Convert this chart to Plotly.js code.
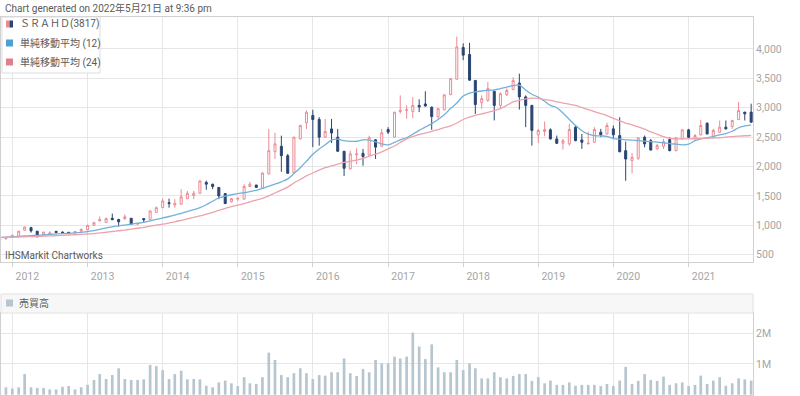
<!DOCTYPE html>
<html>
<head>
<meta charset="utf-8">
<script src="https://cdn.plot.ly/plotly-3.0.1.min.js"></script>
<style>
html,body{margin:0;padding:0;background:#fff;}
#chart{width:800px;height:396px;}
</style>
</head>
<body>
<div id="chart"></div>
<script>
// ---- DATA (monthly, Nov 2011 .. Nov 2021) ----
const startMonth = '2011-11';
const openP = [760,770,800,815,915,960,900,830,850,895,885,880,870,900,
  925,1000,1075,1050,1120,1100,1115,1120,1020,1115,1100,1220,
  1300,1385,1345,1360,1455,1505,1545,1730,1700,1645,1540,1400,
  1445,1445,1660,1685,1630,1875,2255,2345,2185,1890,2470,2745,
  2870,2800,2500,2640,2500,2260,1960,2200,2225,2195,2455,2345,
  2630,2500,2937,2955,2937,3040,3065,3010,2850,2966,3222,3485,
  4025,3905,3465,3085,3125,3280,3040,3222,3310,3420,3185,3040,
  2540,2595,2625,2470,2396,2385,2670,2453,2385,2413,2585,2555,
  2641,2527,2270,2100,2140,2498,2441,2299,2345,2458,2270,2470,
  2624,2481,2538,2738,2516,2584,2670,2681,2800,2926,2926];
const highP = [785,805,840,910,980,975,905,890,900,910,895,890,905,945,
  1010,1060,1150,1130,1200,1110,1185,1125,1040,1120,1250,1320,
  1455,1455,1445,1615,1585,1585,1765,1760,1705,1650,1545,1465,
  1470,1700,1740,1690,1900,2640,2573,2525,2215,2505,2710,2955,
  2965,2840,2810,2810,2640,2265,2270,2310,2300,2525,2465,2641,
  2670,2930,3211,3040,3182,3143,3280,3020,2990,3230,3500,4210,
  4095,4105,3470,3211,3439,3290,3260,3330,3520,3580,3210,3050,
  2640,2766,2650,2527,2470,2725,2698,2555,2595,2670,2641,2744,
  2698,2840,2425,2230,2498,2527,2470,2385,2470,2498,2498,2641,
  2641,2555,2795,2750,2641,2783,2783,2795,3097,2930,3069];
const lowP = [750,760,790,805,905,875,790,820,830,870,865,860,860,895,
  915,990,1065,1040,1090,980,1090,1010,1005,1040,1095,1210,
  1295,1300,1300,1350,1445,1445,1535,1605,1615,1445,1365,1390,
  1415,1440,1650,1635,1620,1865,2128,1910,1880,1880,2460,2640,
  2330,2356,2490,2400,2250,1840,1950,2040,2015,2190,2130,2335,
  2555,2490,2900,2812,2823,2926,3020,2625,2815,2955,3215,3480,
  3810,3460,2895,2983,3100,2785,2983,3200,3300,2970,2670,2355,
  2400,2515,2460,2385,2288,2356,2430,2300,2380,2400,2500,2545,
  2470,2240,1757,1883,2110,2327,2270,2288,2299,2260,2260,2460,
  2490,2441,2530,2545,2470,2575,2630,2641,2790,2783,2745];
const closeP = [775,795,830,900,970,905,820,885,870,880,870,865,895,930,
  1000,1045,1100,1115,1095,1060,1145,1020,1030,1095,1245,1300,
  1415,1370,1375,1485,1545,1545,1755,1700,1660,1500,1370,1455,
  1460,1660,1700,1645,1890,2270,2385,2185,1885,2500,2700,2925,
  2800,2500,2595,2570,2260,1970,2215,2215,2170,2490,2330,2575,
  2585,2925,2955,2965,3040,3015,3030,2850,2985,3220,3495,4035,
  3895,3470,3055,3155,3325,3040,3240,3295,3465,3185,3040,2615,
  2615,2630,2470,2395,2440,2630,2440,2413,2396,2630,2540,2698,
  2540,2253,2128,2157,2487,2385,2282,2356,2424,2270,2487,2624,
  2498,2527,2698,2555,2613,2670,2641,2783,2954,2897,2755];
const sma12 = [795,800,806,812,818,824,830,838,846,852,858,864,872,880,
  895,910,930,955,975,990,1005,1020,1035,1050,1075,1100,
  1125,1150,1175,1205,1235,1265,1300,1350,1410,1465,1495,1520,
  1540,1555,1575,1595,1630,1665,1700,1740,1790,1880,1980,2090,
  2210,2300,2370,2450,2465,2440,2428,2430,2455,2450,2420,2385,
  2368,2410,2455,2490,2550,2615,2670,2730,2800,2880,2990,3080,
  3200,3250,3270,3285,3296,3305,3325,3350,3375,3385,3300,3230,
  3180,3110,3040,3000,2910,2800,2700,2610,2550,2525,2520,2515,
  2475,2465,2455,2450,2440,2432,2425,2415,2405,2390,2380,2370,
  2380,2440,2470,2490,2510,2540,2560,2600,2660,2690,2710];
const sma24 = [792,795,798,801,804,808,812,816,820,825,830,835,840,845,
  852,860,870,882,895,908,920,935,950,965,985,1005,
  1020,1040,1060,1085,1110,1135,1160,1190,1220,1255,1290,1320,
  1345,1370,1400,1430,1460,1500,1550,1600,1650,1720,1780,1840,
  1890,1940,1980,2010,2040,2070,2090,2110,2140,2175,2210,2250,
  2300,2350,2410,2470,2510,2545,2570,2600,2630,2660,2690,2740,
  2800,2840,2870,2895,2920,2950,2985,3040,3100,3125,3150,3165,
  3160,3140,3125,3100,3080,3060,3040,3005,2970,2935,2900,2865,
  2820,2775,2740,2710,2675,2635,2590,2550,2510,2480,2472,2470,
  2470,2475,2478,2482,2486,2490,2500,2510,2518,2524,2528];
const volumeM = [0.15,0.24,0.20,0.24,0.67,0.24,0.22,0.22,0.17,0.17,0.26,0.28,0.17,0.24,
  0.32,0.48,0.67,0.51,0.64,0.86,0.51,0.48,0.48,0.50,0.97,0.93,
  0.80,0.51,0.67,0.78,0.50,0.51,0.50,0.29,0.24,0.40,0.46,0.37,
  0.28,0.57,0.37,0.35,0.57,1.37,1.13,0.64,0.57,0.70,0.86,0.70,
  0.51,0.64,0.62,0.73,0.73,1.18,0.70,0.61,0.84,0.73,1.13,1.02,
  1.02,1.24,1.18,1.24,2.02,1.57,1.16,1.64,0.89,0.73,0.73,1.13,
  0.80,1.02,0.86,0.53,0.53,0.73,0.57,0.53,0.61,0.67,0.67,0.45,
  0.57,0.37,0.46,0.32,0.32,0.40,0.29,0.32,0.32,0.32,0.28,0.35,
  0.28,0.46,0.91,0.35,0.45,0.67,0.48,0.45,0.59,0.32,0.37,0.40,
  0.28,0.32,0.62,0.35,0.46,0.57,0.29,0.37,0.53,0.50,0.46];
const years = ['2012','2013','2014','2015','2016','2017','2018','2019','2020','2021'];
const priceTicks = [500,1000,1500,2000,2500,3000,3500,4000];
const volTicks = [1,2];
const volTickText = ['1M','2M'];
const titleText = 'Chart generated on 2022年5月21日 at 9:36 pm';
const legendNames = ['ＳＲＡＨＤ(3817)','単純移動平均 (12)','単純移動平均 (24)'];
const volName = '売買高';
const creditText = 'IHSMarkit Chartworks';

// month start dates (categories)
const dates = [];
{
  let y = +startMonth.slice(0,4), m = +startMonth.slice(5,7);
  for (let i = 0; i < openP.length; i++) {
    dates.push(y + '-' + String(m).padStart(2,'0') + '-01');
    m++; if (m > 12) { m = 1; y++; }
  }
}

// ---- layout helpers (pixel -> paper) ----
const ML = 1, MR = 47, MT = 17, MB = 1, W = 800, H = 396;
const PW = W - ML - MR, PH = H - MT - MB;
const px = p => (p - ML) / PW;
const py = q => (H - MB - q) / PH;

const FONT = 'Roboto, "Noto Sans CJK JP", sans-serif';
const RED = '#ec8a94', NAVY = '#2b4572', BLUE = '#72b1da', PINK = '#eca3ad', VOL = '#b7c5cf';
const GRID = '#e6e6e6', LINE = '#d0d0d0';
const TXT = '#5a5a5a', TICK = '#a5a5a5';

const traces = [
  {type:'candlestick', x:dates, open:openP, high:highP, low:lowP, close:closeP,
   xaxis:'x', yaxis:'y', whiskerwidth:0, showlegend:false, hoverinfo:'none',
   increasing:{line:{color:RED, width:1}, fillcolor:'#ffffff'},
   decreasing:{line:{color:NAVY, width:1}, fillcolor:NAVY}},
  {type:'scatter', mode:'lines', x:dates, y:sma12, xaxis:'x', yaxis:'y',
   line:{color:BLUE, width:1.3, shape:'spline'}, showlegend:false, hoverinfo:'none'},
  {type:'scatter', mode:'lines', x:dates, y:sma24, xaxis:'x', yaxis:'y',
   line:{color:PINK, width:1.3, shape:'spline'}, showlegend:false, hoverinfo:'none'},
  {type:'bar', x:dates, y:volumeM, xaxis:'x2', yaxis:'y2', width:13*864e5,
   marker:{color:VOL}, showlegend:false, hoverinfo:'none'}
];

const yearVals = years.map(y => y + '-01-01');

const layout = {
  width:W, height:H, margin:{l:ML, r:MR, t:MT, b:MB, pad:0},
  paper_bgcolor:'#ffffff', plot_bgcolor:'rgba(0,0,0,0)',
  font:{family:FONT, size:10, color:TICK},
  showlegend:false, boxgap:0.5,
  xaxis:{type:'date', domain:[0,1], anchor:'y', range:['2011-11-07','2021-11-10'],
    tickvals:yearVals, ticktext:years, ticklabelshift:15,
    ticks:'outside', ticklen:4, tickcolor:LINE, showgrid:true, gridcolor:GRID,
    showline:true, linecolor:LINE, mirror:true, zeroline:false,
    rangeslider:{visible:false}, tickfont:{size:10.5, color:TICK}, fixedrange:true},
  yaxis:{domain:[py(262),1], anchor:'x', range:[376,4544], side:'right',
    tickvals:priceTicks, tickformat:',d', showgrid:true, gridcolor:GRID,
    showline:true, linecolor:LINE, mirror:true, zeroline:false, ticks:'',
    tickfont:{size:10.5, color:TICK}, fixedrange:true},
  xaxis2:{type:'date', matches:'x', domain:[0,1], anchor:'y2', showticklabels:false,
    ticks:'', showgrid:true, gridcolor:GRID, tickvals:yearVals,
    showline:true, linecolor:LINE, mirror:true, zeroline:false, fixedrange:true},
  yaxis2:{domain:[0,py(313)], anchor:'x2', range:[-0.01,2.66], side:'right',
    tickvals:volTicks, ticktext:volTickText, showgrid:true, gridcolor:GRID,
    showline:true, linecolor:LINE, mirror:true, zeroline:false, ticks:'',
    tickfont:{size:10.5, color:TICK}, fixedrange:true},
  shapes:[
    // legend box
    {type:'rect', xref:'paper', yref:'paper', x0:px(2), x1:px(100), y0:py(73), y1:py(17),
     fillcolor:'rgba(255,255,255,0.92)', line:{color:'#dddddd', width:1}, layer:'above'},
    {type:'rect', xref:'paper', yref:'paper', x0:px(6), x1:px(9.5), y0:py(27.5), y1:py(20.5),
     fillcolor:RED, line:{width:0}, layer:'above'},
    {type:'rect', xref:'paper', yref:'paper', x0:px(9.5), x1:px(13), y0:py(27.5), y1:py(20.5),
     fillcolor:NAVY, line:{width:0}, layer:'above'},
    {type:'rect', xref:'paper', yref:'paper', x0:px(6), x1:px(13), y0:py(46.5), y1:py(39.5),
     fillcolor:'#4f9fd3', line:{width:0}, layer:'above'},
    {type:'rect', xref:'paper', yref:'paper', x0:px(6), x1:px(13), y0:py(65.5), y1:py(58.5),
     fillcolor:'#e17f8d', line:{width:0}, layer:'above'},
    // volume header bar
    {type:'rect', xref:'paper', yref:'paper', x0:px(1), x1:px(753), y0:py(313), y1:py(294),
     fillcolor:'#f7f7f7', line:{color:'#e2e2e2', width:1}},
    {type:'rect', xref:'paper', yref:'paper', x0:px(6), x1:px(13), y0:py(306.5), y1:py(299.5),
     fillcolor:VOL, line:{width:0}}
  ],
  annotations:[
    {text:titleText, xref:'paper', yref:'paper', x:px(3), y:py(8), xanchor:'left', yanchor:'middle',
     showarrow:false, font:{size:10, color:TXT}},
    {text:legendNames[0], xref:'paper', yref:'paper', x:px(18), y:py(24), xanchor:'left', yanchor:'middle',
     showarrow:false, font:{size:10, color:TXT}},
    {text:legendNames[1], xref:'paper', yref:'paper', x:px(18), y:py(43), xanchor:'left', yanchor:'middle',
     showarrow:false, font:{size:10, color:TXT}},
    {text:legendNames[2], xref:'paper', yref:'paper', x:px(18), y:py(62), xanchor:'left', yanchor:'middle',
     showarrow:false, font:{size:10, color:TXT}},
    {text:creditText, xref:'paper', yref:'paper', x:px(3), y:py(255), xanchor:'left', yanchor:'middle',
     showarrow:false, font:{size:10, color:TXT}},
    {text:volName, xref:'paper', yref:'paper', x:px(17), y:py(303), xanchor:'left', yanchor:'middle',
     showarrow:false, font:{size:10, color:TXT}}
  ]
};

Plotly.newPlot('chart', traces, layout, {staticPlot:true, displayModeBar:false});
</script>
</body>
</html>
